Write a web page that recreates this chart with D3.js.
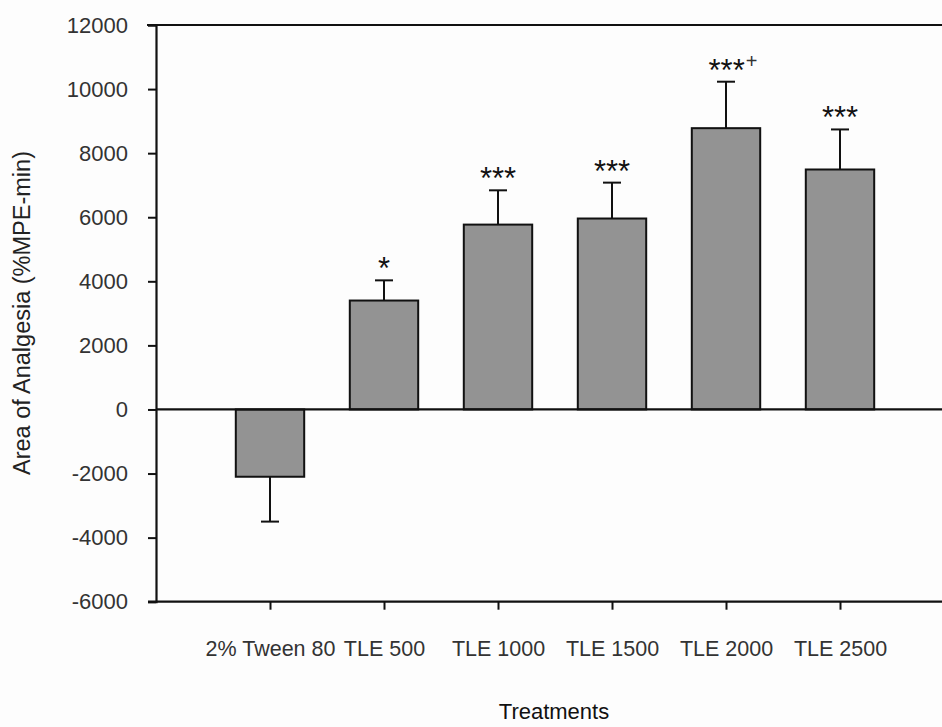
<!DOCTYPE html>
<html>
<head>
<meta charset="utf-8">
<script src="https://cdn.jsdelivr.net/npm/d3@7"></script>
<style>
  body { margin: 0; background: #fdfdfd; }
  text { font-family: "Liberation Sans", Arial, sans-serif; }
</style>
</head>
<body>
<div id="chart"></div>
<script>
// data
var treatments = ["2% Tween 80", "TLE 500", "TLE 1000", "TLE 1500", "TLE 2000", "TLE 2500"];
var meanArea = [-2100, 3400, 5770, 5960, 8780, 7490];
var errTop = [-3500, 4030, 6840, 7080, 10230, 8740];
var stars = ["", "*", "***", "***", "***", "***"];
var plusMark = ["", "", "", "", "+", ""];
var yTicks = [-6000, -4000, -2000, 0, 2000, 4000, 6000, 8000, 10000, 12000];

var svgWidth = 942;
var svgHeight = 727;

var svg = d3.select("#chart")
  .append("svg")
  .attr("width", svgWidth)
  .attr("height", svgHeight);

// x positions: categories sit at 1..6 on a 0..7 axis (plot runs past right edge)
var xScale = d3.scaleLinear()
  .domain([0, 7])
  .range([156, 954]);

var yScale = d3.scaleLinear()
  .domain([-6000, 12000])
  .range([601.7, 25]);

var step = xScale(1) - xScale(0);
var barW = step * 0.6;

// frame top line
svg.append("line")
  .attr("x1", 147).attr("x2", svgWidth)
  .attr("y1", yScale(12000)).attr("y2", yScale(12000))
  .attr("stroke", "#111").attr("stroke-width", 2.2);

// left axis
var leftAxis = d3.axisLeft(yScale)
  .tickValues(yTicks)
  .tickSize(8)
  .tickPadding(20)
  .tickFormat(d => String(d));

var yG = svg.append("g")
  .attr("transform", `translate(${xScale(0)},0)`)
  .call(leftAxis);
yG.select(".domain").attr("stroke", "#111").attr("stroke-width", 2.2);
yG.selectAll(".tick line").attr("stroke", "#111").attr("stroke-width", 2);
yG.selectAll(".tick text")
  .attr("font-size", "22px")
  .attr("fill", "#333")
  .attr("font-family", "Liberation Sans, Arial, sans-serif");

// bottom axis at -6000
var bottomAxis = d3.axisBottom(xScale)
  .tickValues([1, 2, 3, 4, 5, 6])
  .tickSize(8)
  .tickPadding(31)
  .tickFormat((d, i) => treatments[i]);

var xG = svg.append("g")
  .attr("transform", `translate(0,${yScale(-6000)})`)
  .call(bottomAxis);
xG.select(".domain").remove();
xG.selectAll(".tick line").attr("stroke", "#111").attr("stroke-width", 2);
xG.selectAll(".tick text")
  .attr("font-size", "21.5px")
  .attr("fill", "#333")
  .attr("font-family", "Liberation Sans, Arial, sans-serif");

svg.append("line")
  .attr("x1", xScale(0) - 8).attr("x2", svgWidth)
  .attr("y1", yScale(-6000)).attr("y2", yScale(-6000))
  .attr("stroke", "#111").attr("stroke-width", 2.2);

// error bars (drawn first so bar covers the stem)
var errG = svg.append("g");
treatments.forEach(function(t, i) {
  var cx = xScale(i + 1);
  errG.append("line")
    .attr("x1", cx).attr("x2", cx)
    .attr("y1", yScale(meanArea[i])).attr("y2", yScale(errTop[i]))
    .attr("stroke", "#111").attr("stroke-width", 2);
  errG.append("line")
    .attr("x1", cx - 9).attr("x2", cx + 9)
    .attr("y1", yScale(errTop[i])).attr("y2", yScale(errTop[i]))
    .attr("stroke", "#111").attr("stroke-width", 2);
});

// bars
svg.selectAll("rect.bar")
  .data(meanArea)
  .enter()
  .append("rect")
  .attr("class", "bar")
  .attr("x", (d, i) => xScale(i + 1) - barW / 2)
  .attr("y", d => yScale(Math.max(0, d)))
  .attr("width", barW)
  .attr("height", d => Math.abs(yScale(d) - yScale(0)))
  .attr("fill", "#939393")
  .attr("stroke", "#111")
  .attr("stroke-width", 2);

// zero line
svg.append("line")
  .attr("x1", xScale(0)).attr("x2", svgWidth)
  .attr("y1", yScale(0)).attr("y2", yScale(0))
  .attr("stroke", "#111").attr("stroke-width", 2.2);

// significance marks
var sig = svg.selectAll("text.sig")
  .data(stars)
  .enter()
  .append("text")
  .attr("class", "sig")
  .attr("x", (d, i) => xScale(i + 1) + (plusMark[i] ? 7 : 0))
  .attr("y", (d, i) => yScale(errTop[i]) - 1)
  .attr("text-anchor", "middle")
  .attr("font-size", "31px")
  .attr("fill", "#111");
sig.append("tspan").text(d => d);
sig.append("tspan")
  .attr("font-size", "20px")
  .attr("dx", 1)
  .attr("dy", -13)
  .attr("fill", "#333")
  .text((d, i) => plusMark[i]);

// axis titles
svg.append("text")
  .attr("transform", "rotate(-90)")
  .attr("x", -313)
  .attr("y", 30)
  .attr("text-anchor", "middle")
  .attr("font-size", "23.5px")
  .attr("fill", "#222")
  .text("Area of Analgesia (%MPE-min)");

svg.append("text")
  .attr("x", 554)
  .attr("y", 719)
  .attr("text-anchor", "middle")
  .attr("font-size", "22px")
  .attr("fill", "#111")
  .text("Treatments");
</script>
</body>
</html>
